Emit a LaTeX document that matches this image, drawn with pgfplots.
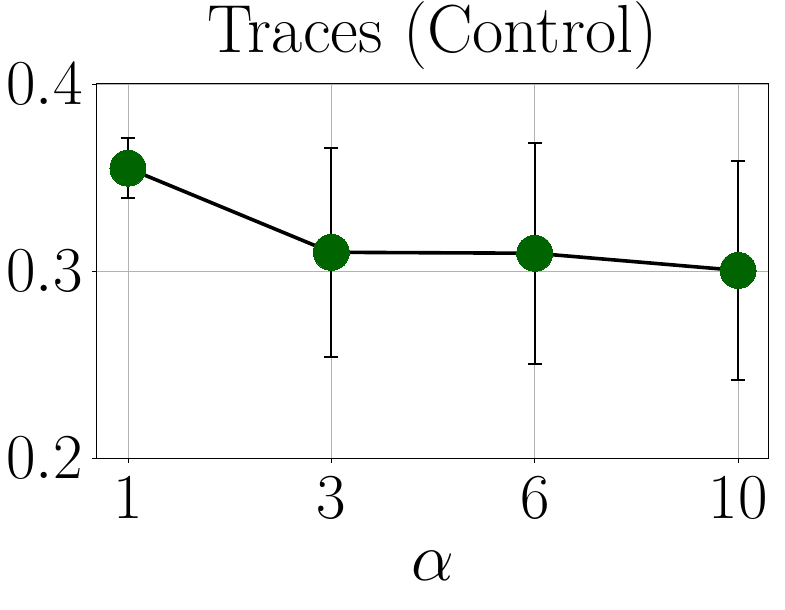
\RequirePackage{fix-cm}
\documentclass[border=0pt]{standalone}
\usepackage{pgfplots}
\pgfplotsset{compat=1.18}
\definecolor{mgreen}{RGB}{0,100,0}
\begin{document}
\begin{tikzpicture}
\begin{axis}[
  name=ax,
  scale only axis,
  width=335.5pt, height=187pt,
  xmin=-0.152, xmax=3.147,
  ymin=0.2, ymax=0.4,
  xtick={0,1,2,3}, xticklabels={1,3,6,10},
  ytick={0.2,0.3,0.4},
  xtick pos=left, ytick pos=left,
  yticklabel style={/pgf/number format/fixed,/pgf/number format/precision=1,/pgf/number format/fixed zerofill},
  font=\fontsize{32}{38}\selectfont,
  tick label style={font=\fontsize{32}{38}\selectfont},
  xticklabel style={anchor=base, inner sep=0pt, yshift=-27.5pt},
  yticklabel style={anchor=east, inner sep=0pt, xshift=-4.5pt},
  title={Traces (Control)},
  title style={font=\fontsize{34}{40}\selectfont, anchor=base, at={(0.5,1)}, inner sep=0pt, yshift=9.5pt},
  xlabel={$\alpha$},
  xlabel style={font=\fontsize{34}{40}\selectfont, at={(0.5,0)}, anchor=base, inner sep=0pt, yshift=-61pt},
  grid=major,
  major grid style={color=black!30, line width=0.4pt},
  tick align=outside,
  major tick length=2.5pt,
  tick style={black, line width=0.4pt},
  axis line style={black, line width=0.5pt},
  clip=false,
]
\addplot[black, line width=1.8pt, mark=*, mark size=9pt,
  mark options={fill=mgreen, draw=mgreen, line width=0pt},
  error bars/.cd, y dir=both, y explicit,
  error bar style={black, line width=1pt},
  error mark options={rotate=90, mark size=3.5pt, black, line width=1pt}]
coordinates {
  (0,0.355) +- (0,0.016)
  (1,0.310) +- (0,0.0558)
  (2,0.3095) +- (0,0.059)
  (3,0.3003) +- (0,0.0585)
};
\end{axis}
\path (ax.south west) ++(-48.5pt,-75.5pt);
\path (ax.north east) ++(8.5pt,42pt);
\end{tikzpicture}
\end{document}
